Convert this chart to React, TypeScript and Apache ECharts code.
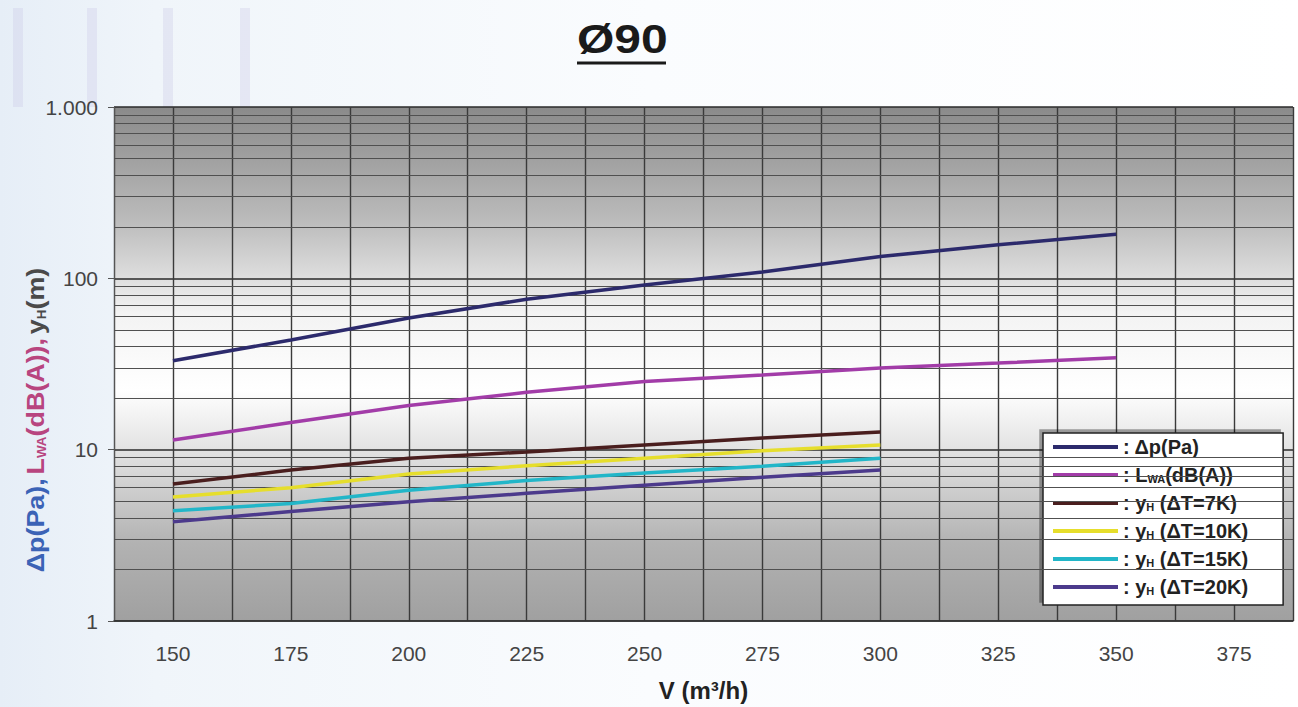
import React, { useEffect, useRef } from "react";
import * as echarts from "echarts";

// ---- data ----
const xLong = [150, 175, 200, 225, 250, 275, 300, 325, 350];
const xShort = [150, 175, 200, 225, 250, 275, 300];
const dpPa = [33, 43.7, 58.7, 75.5, 91.5, 109, 134, 157, 181];
const lwa = [11.4, 14.4, 18.1, 21.6, 25.0, 27.3, 30.0, 32.0, 34.4];
const yh7 = [6.3, 7.6, 8.9, 9.7, 10.65, 11.7, 12.7];
const yh10 = [5.3, 6.0, 7.2, 8.05, 8.9, 9.85, 10.65];
const yh15 = [4.4, 4.85, 5.8, 6.6, 7.3, 8.0, 8.9];
const yh20 = [3.8, 4.35, 4.97, 5.56, 6.2, 6.9, 7.6];
const seriesNames = [
  "Δp(Pa)",
  "LWA(dB(A))",
  "yH (ΔT=7K)",
  "yH (ΔT=10K)",
  "yH (ΔT=15K)",
  "yH (ΔT=20K)",
];
const legendLabels = [
  ": Δp(Pa)",
  ": L{sub|WA}(dB(A))",
  ": y{sub|H} (ΔT=7K)",
  ": y{sub|H} (ΔT=10K)",
  ": y{sub|H} (ΔT=15K)",
  ": y{sub|H} (ΔT=20K)",
];
const colors = ["#2c2a6c", "#a23ca8", "#4a1e1e", "#e6de2c", "#22b6c8", "#4c3a8c"];
const minorGrid = [2, 3, 4, 5, 6, 7, 8, 9, 20, 30, 40, 50, 60, 70, 80, 90, 200, 300, 400, 500, 600, 700, 800, 900];
const xLabelStep = 25;

const pair = (xs: number[], ys: number[]) => xs.map((x, i) => [x, ys[i]]);

export default function App() {
  const ref = useRef<HTMLDivElement>(null);
  useEffect(() => {
    if (!ref.current) return;
    const chart = echarts.init(ref.current, null, { renderer: "svg" });
    const font = "Arial, 'Liberation Sans', sans-serif";
    const datasets = [
      pair(xLong, dpPa),
      pair(xLong, lwa),
      pair(xShort, yh7),
      pair(xShort, yh10),
      pair(xShort, yh15),
      pair(xShort, yh20),
    ];
    const lineSeries = datasets.map((d, i) => ({
      name: seriesNames[i],
      type: "line",
      data: d,
      showSymbol: false,
      symbol: "none",
      z: 5,
      lineStyle: { color: colors[i], width: 3.5 },
      itemStyle: { color: colors[i] },
    }));
    const watermark = [13, 87, 163, 240].map((x) => ({
      type: "rect",
      shape: { x, y: 8, width: 10, height: 99 },
      style: { fill: "rgba(200,196,228,0.3)" },
      z: -1,
    }));
    chart.setOption({
      animation: false,
      backgroundColor: {
        type: "linear",
        x: 0,
        y: 0,
        x2: 1,
        y2: 0,
        colorStops: [
          { offset: 0, color: "#e6eef7" },
          { offset: 0.12, color: "#f0f5fa" },
          { offset: 0.5, color: "#fafcfe" },
          { offset: 1, color: "#ffffff" },
        ],
      },
      graphic: [
        ...watermark,
        {
          type: "text",
          x: 577,
          y: 19,
          scaleX: 1.2,
          style: {
            text: "Ø90",
            font: `bold 40px ${font}`,
            fill: "#1a1a1a",
            verticalAlign: "top",
          },
        },
        {
          type: "line",
          shape: { x1: 577, y1: 63, x2: 666, y2: 63 },
          style: { stroke: "#1a1a1a", lineWidth: 3 },
        },
        {
          type: "text",
          x: 36,
          y: 420,
          rotation: Math.PI / 2,
          scaleX: 1.12,
          style: {
            text: "{a|Δp(Pa),} {b|L}{bs|WA}{b|(dB(A)),} {c|y}{cs|H}{c|(m)}",
            align: "center",
            verticalAlign: "middle",
            rich: {
              a: { fontSize: 24, fontWeight: "bold", fontFamily: font, fill: "#3b63b6" },
              b: { fontSize: 24, fontWeight: "bold", fontFamily: font, fill: "#b8457f" },
              bs: { fontSize: 12, fontWeight: "bold", fontFamily: font, fill: "#b8457f", padding: [11, 0, 0, 0] },
              c: { fontSize: 24, fontWeight: "bold", fontFamily: font, fill: "#4a4a4a" },
              cs: { fontSize: 12, fontWeight: "bold", fontFamily: font, fill: "#4a4a4a", padding: [11, 0, 0, 0] },
            },
          },
        },
      ],
      grid: {
        left: 114,
        right: 5,
        top: 107,
        bottom: 86,
        show: true,
        borderWidth: 0,
        backgroundColor: {
          type: "linear",
          x: 0,
          y: 0,
          x2: 0,
          y2: 1,
          colorStops: [
            { offset: 0, color: "#8a8a8a" },
            { offset: 0.22, color: "#bbbbbb" },
            { offset: 0.4, color: "#f3f3f3" },
            { offset: 0.55, color: "#ffffff" },
            { offset: 0.7, color: "#dadada" },
            { offset: 0.85, color: "#b2b2b2" },
            { offset: 1, color: "#a0a0a0" },
          ],
        },
      },
      legend: {
        orient: "vertical",
        left: 1043,
        top: 433,
        data: seriesNames,
        icon: "rect",
        itemWidth: 65,
        itemHeight: 4,
        itemGap: 6,
        padding: [3, 35, 7, 10],
        backgroundColor: "#ffffff",
        borderColor: "#222222",
        borderWidth: 1.5,
        shadowColor: "rgba(0,0,0,0.35)",
        shadowOffsetX: -3,
        shadowOffsetY: -3,
        formatter: (name: string) => legendLabels[seriesNames.indexOf(name)],
        textStyle: {
          fontFamily: font,
          fontWeight: "bold",
          fontSize: 20,
          lineHeight: 22,
          color: "#222",
          rich: {
            sub: { fontFamily: font, fontWeight: "bold", fontSize: 11, color: "#222", padding: [8, 0, 0, 0] },
          },
        },
      },
      xAxis: {
        type: "value",
        min: 137.5,
        max: 387.5,
        interval: 12.5,
        name: "V (m³/h)",
        nameLocation: "middle",
        nameGap: 57,
        nameTextStyle: { fontFamily: font, fontWeight: "bold", fontSize: 24, color: "#222" },
        axisLine: { show: true, lineStyle: { color: "#333", width: 1.5 } },
        axisTick: { show: false },
        axisLabel: {
          margin: 22,
          fontFamily: font,
          fontSize: 21,
          color: "#444",
          formatter: (v: number) => (v % xLabelStep === 0 ? String(v) : ""),
        },
        splitLine: { show: true, lineStyle: { color: "#3a3a3a", width: 1.4 } },
      },
      yAxis: {
        type: "log",
        logBase: 10,
        min: 1,
        max: 1000,
        axisLine: { show: true, lineStyle: { color: "#555", width: 1 } },
        axisTick: { show: true, length: 6, lineStyle: { color: "#555" } },
        axisLabel: {
          margin: 16,
          fontFamily: font,
          fontSize: 21,
          color: "#444",
          formatter: (v: number) => (v >= 1000 ? v.toLocaleString("de-DE") : String(v)),
        },
        splitLine: { show: true, lineStyle: { color: "#2a2a2a", width: 1.6 } },
      },
      series: [
        {
          type: "line",
          data: [],
          z: 1,
          silent: true,
          markLine: {
            silent: true,
            symbol: "none",
            label: { show: false },
            lineStyle: { color: "#505050", width: 1.2, type: "solid" },
            data: minorGrid.map((v) => ({ yAxis: v })),
          },
        },
        ...lineSeries,
      ],
    });
    return () => chart.dispose();
  }, []);
  return (
    <div
      ref={ref}
      style={{ position: "fixed", left: 0, top: 0, width: 1298, height: 707 }}
    />
  );
}
